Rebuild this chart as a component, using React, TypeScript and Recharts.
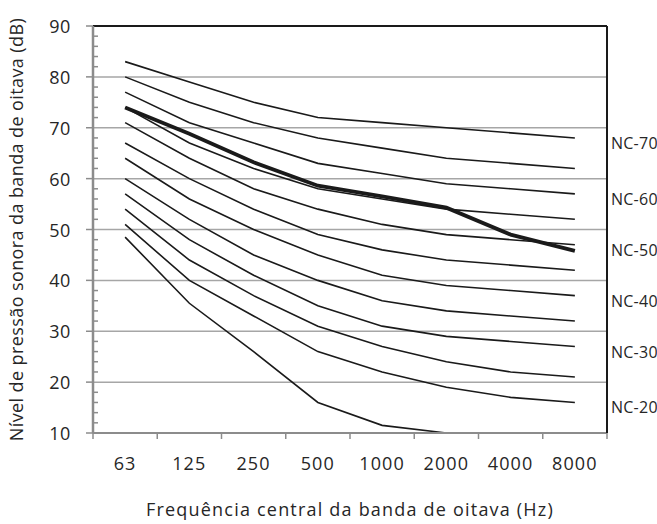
import { LineChart, Line, XAxis, YAxis, ReferenceLine, LabelList } from 'recharts';

// Frequências centrais das bandas de oitava (Hz)
const freqs = ['63', '125', '250', '500', '1000', '2000', '4000', '8000'];

// Curvas NC (dB)
const nc70 = [83, 79, 75, 72, 71, 70, 69, 68];
const nc65 = [80, 75, 71, 68, 66, 64, 63, 62];
const nc60 = [77, 71, 67, 63, 61, 59, 58, 57];
const nc55 = [74, 67, 62, 58, 56, 54, 53, 52];
const nc50 = [71, 64, 58, 54, 51, 49, 48, 47];
const nc45 = [67, 60, 54, 49, 46, 44, 43, 42];
const nc40 = [64, 56, 50, 45, 41, 39, 38, 37];
const nc35 = [60, 52, 45, 40, 36, 34, 33, 32];
const nc30 = [57, 48, 41, 35, 31, 29, 28, 27];
const nc25 = [54, 44, 37, 31, 27, 24, 22, 21];
const nc20 = [51, 40, 33, 26, 22, 19, 17, 16];
const nc15 = [48.5, 35.5, 26, 16, 11.5, 10, null, null];

// espectro medido (linha grossa)
const medido = [74, 68.8, 63.2, 58.6, 56.5, 54.3, 49, 45.8];

const yMajor = [10, 20, 30, 40, 50, 60, 70, 80, 90];
const yAll = [10, 12, 14, 16, 18, 20, 22, 24, 26, 28, 30, 32, 34, 36, 38, 40, 42, 44, 46, 48, 50, 52, 54, 56, 58, 60, 62, 64, 66, 68, 70, 72, 74, 76, 78, 80, 82, 84, 86, 88, 90];

const curves = [
    { key: 'nc70', values: nc70, label: 'NC-70' },
    { key: 'nc65', values: nc65, label: '' },
    { key: 'nc60', values: nc60, label: 'NC-60' },
    { key: 'nc55', values: nc55, label: '' },
    { key: 'nc50', values: nc50, label: 'NC-50' },
    { key: 'nc45', values: nc45, label: '' },
    { key: 'nc40', values: nc40, label: 'NC-40' },
    { key: 'nc35', values: nc35, label: '' },
    { key: 'nc30', values: nc30, label: 'NC-30' },
    { key: 'nc25', values: nc25, label: '' },
    { key: 'nc20', values: nc20, label: 'NC-20' },
    { key: 'nc15', values: nc15, label: '' },
];

const data = freqs.map((f, i) => {
    const row: any = { freq: f, medido: medido[i] };
    curves.forEach(c => { row[c.key] = c.values[i]; });
    return row;
});

const FONT = '"Open Sans", "Liberation Sans", sans-serif';
const TEXT = '#262626';
const GRAY = '#8c8c8c';

// rótulo NC-xx à direita do último ponto
const EndLabel = (text: string) => (props: any) => {
    const { x, y, index } = props;
    if (index !== freqs.length - 1 || !text) return null;
    return (
        <text x={x + 36} y={y + 5} fontSize={16} letterSpacing={0.3} fontFamily={FONT} fill={TEXT} dominantBaseline="central">{text}</text>
    );
};

// eixo X: marcas nos limites das bandas + rótulo no centro
const XTick = (props: any) => {
    const { x, y, payload, index, visibleTicksCount } = props;
    const half = payload?.offset ?? 32;
    return (
        <g>
            <line x1={x - half} x2={x - half} y1={y} y2={y + 6} stroke={GRAY} strokeWidth={1.5} />
            {index === visibleTicksCount - 1 && (
                <line x1={x + half} x2={x + half} y1={y} y2={y + 6} stroke={GRAY} strokeWidth={1.5} />
            )}
            <text x={x} y={y + 37} textAnchor="middle" fontSize={18} letterSpacing={1.2} fontFamily={FONT} fill={TEXT}>{payload.value}</text>
        </g>
    );
};

// eixo Y: marcas principais para fora com rótulo, secundárias para dentro
const YTick = (props: any) => {
    const { x, y, payload } = props;
    const major = payload.value % 10 === 0;
    if (!major) return <line x1={x} x2={x + 5} y1={y} y2={y} stroke={GRAY} strokeWidth={1.5} />;
    return (
        <g>
            <line x1={x - 7} x2={x} y1={y} y2={y} stroke={GRAY} strokeWidth={1.5} />
            <text x={x - 22} y={y} textAnchor="end" dominantBaseline="central" fontSize={18} letterSpacing={0.6} fontFamily={FONT} fill={TEXT}>{payload.value}</text>
        </g>
    );
};

export default function App() {
    return (
        <div style={{ position: 'absolute', left: 0, top: 0, background: '#fff' }}>
            <LineChart width={657} height={524} data={data} margin={{ top: 26, right: 0, bottom: 0, left: 0 }}>
                {yMajor.map(v => (
                    <ReferenceLine key={v} y={v} stroke={v === 90 ? '#1a1a1a' : '#a6a6a6'} strokeWidth={v === 90 ? 2 : 1.5} />
                ))}
                <XAxis dataKey="freq" scale="band" height={91} interval={0}
                    axisLine={{ stroke: GRAY, strokeWidth: 2 }} tickLine={false} tickSize={0} tickMargin={0}
                    tick={<XTick />}
                    label={{ value: 'Frequência central da banda de oitava (Hz)', position: 'insideBottom', offset: 8, style: { fontSize: 18, letterSpacing: 1.2, fontFamily: FONT, fill: TEXT } }} />
                <YAxis domain={[10, 90]} ticks={yAll} width={93} interval={0}
                    axisLine={{ stroke: GRAY, strokeWidth: 2.5 }} tickLine={false} tickSize={0} tickMargin={0}
                    tick={<YTick />}
                    label={{ value: 'Nível de pressão sonora da banda de oitava (dB)', angle: -90, position: 'insideLeft', offset: 17, style: { textAnchor: 'middle', fontSize: 18, letterSpacing: 0.4, fontFamily: FONT, fill: TEXT } }} />
                {/* borda direita da área do gráfico */}
                <YAxis yAxisId="borda" orientation="right" domain={[10, 90]} width={50} tick={false} tickLine={false}
                    axisLine={{ stroke: '#1a1a1a', strokeWidth: 2 }} />
                {curves.map(c => (
                    <Line key={c.key} dataKey={c.key} stroke="#1a1a1a" strokeWidth={1.6} dot={false} isAnimationActive={false} connectNulls={false}>
                        <LabelList dataKey={c.key} content={EndLabel(c.label)} />
                    </Line>
                ))}
                <Line dataKey="medido" stroke="#1a1a1a" strokeWidth={3.8} dot={false} isAnimationActive={false} />
            </LineChart>
        </div>
    );
}
